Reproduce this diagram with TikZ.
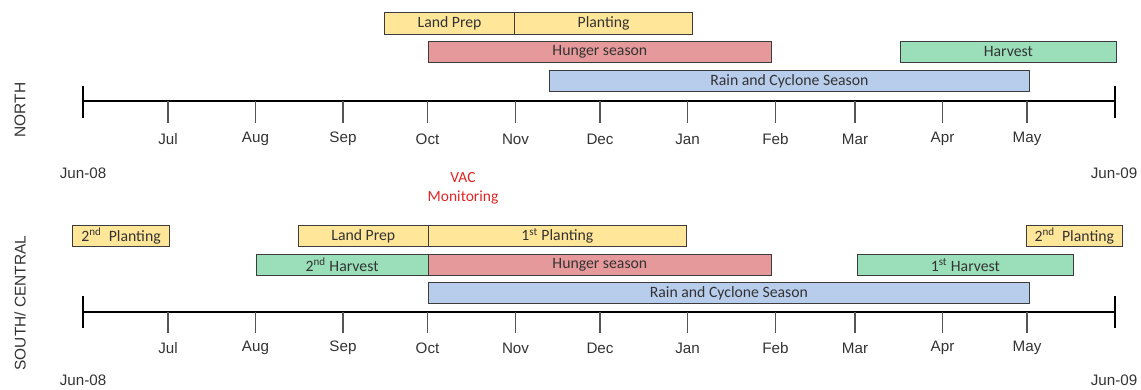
\documentclass[tikz,border=0pt]{standalone}
\usepackage{fontspec}
\setmainfont{Carlito}
\newfontfamily\arialfont{Liberation Sans}
\usepackage{tikz}

\definecolor{txtgray}{HTML}{333333}
\definecolor{edgegray}{HTML}{3C3C3C}
\definecolor{tickgray}{HTML}{555555}
\definecolor{prepyellow}{HTML}{FFE699}
\definecolor{hungerred}{HTML}{E6999A}
\definecolor{harvestgreen}{HTML}{9ADFB9}
\definecolor{rainblue}{HTML}{B8CCEC}
\definecolor{vacred}{HTML}{E02424}

\tikzset{
	bar/.style={shape=rectangle,draw=edgegray,line width=0.8pt,anchor=west,inner sep=0pt,
		minimum height=0.54cm,text=txtgray,font=\fontsize{11.2}{13}\selectfont},
	axis/.style={line width=2.1pt,black},
	endtick/.style={line width=1pt,black},
	monthtick/.style={line width=1pt,tickgray},
	month/.style={text=txtgray,font=\arialfont\fontsize{10.8}{12}\selectfont},
	region/.style={text=txtgray,rotate=90,font=\arialfont\fontsize{11}{13}\selectfont}
}

\begin{document}
\begin{tikzpicture}[x=0.025cm,y=-0.025cm]
	\useasboundingbox (0,0) rectangle (1141,389);

	% north panel
	\node[region] (north) at (20,110) {NORTH};
	\coordinate (nstart) at (83,101);
	\coordinate (nend)   at (1115,101);
	\draw[axis] (nstart) -- (nend);
	\draw[endtick] (83,86) -- (83,118);
	\draw[endtick] (1115,86) -- (1115,118);
	\foreach \x/\m in {168/Jul,255.5/Aug,343/Sep,427.5/Oct,515.5/Nov,600/Dec,687.5/Jan,775.5/Feb,855/Mar,942.5/Apr,1027/May}{
		\draw[monthtick] (\x,101) -- (\x,123);
		\node[month] (n\m) at (\x,139) {\m};
	}
	\node[month] (njun08) at (83,173)   {Jun-08};
	\node[month] (njun09) at (1114,173) {Jun-09};

	\node[bar,fill=prepyellow,minimum width=3.25cm]     (nprep)    at (384,23.5)  {Land Prep};
	\node[bar,fill=prepyellow,minimum width=4.45cm]     (nplant)   at (514,23.5)  {Planting};
	\node[bar,fill=hungerred,minimum width=8.5875cm]    (nhunger)  at (427.5,52)  {Hunger season};
	\node[bar,fill=harvestgreen,minimum width=5.3875cm] (nharvest) at (900,52)    {Harvest};
	\node[bar,fill=rainblue,minimum width=12.0125cm]    (nrain)    at (548.5,81)  {Rain and Cyclone Season};

	% VAC monitoring
	\node[text=vacred,align=center,font=\fontsize{11}{13.5}\selectfont] (vac) at (463,188.5) {VAC\\Monitoring};

	% south / central panel
	\node[region] (south) at (20,303) {SOUTH/ CENTRAL};
	\coordinate (sstart) at (83,312);
	\coordinate (send)   at (1115,312);
	\draw[axis] (sstart) -- (send);
	\draw[endtick] (83,296) -- (83,328);
	\draw[endtick] (1115,296) -- (1115,328);
	\foreach \x/\m in {168/Jul,255.5/Aug,343/Sep,427.5/Oct,515.5/Nov,600/Dec,687.5/Jan,775.5/Feb,855/Mar,942.5/Apr,1027/May}{
		\draw[monthtick] (\x,312) -- (\x,333);
		\node[month] (s\m) at (\x,348) {\m};
	}
	\node[month] (sjun08) at (83,380.5)   {Jun-08};
	\node[month] (sjun09) at (1114,380.5) {Jun-09};

	\node[bar,fill=prepyellow,minimum width=2.425cm]    (splanta)  at (72,236)    {2\textsuperscript{nd}\ \ Planting};
	\node[bar,fill=prepyellow,minimum width=3.2375cm]   (sprep)    at (298,236)   {Land Prep};
	\node[bar,fill=prepyellow,minimum width=6.4625cm]   (splant)   at (427.5,236) {1\textsuperscript{st} Planting};
	\node[bar,fill=prepyellow,minimum width=2.4125cm]   (splantb)  at (1025.5,236){2\textsuperscript{nd}\ \ Planting};
	\node[bar,fill=harvestgreen,minimum width=4.3cm]    (sharvestb) at (255.5,265) {2\textsuperscript{nd} Harvest};
	\node[bar,fill=hungerred,minimum width=8.5875cm]    (shunger)  at (427.5,265) {Hunger season};
	\node[bar,fill=harvestgreen,minimum width=5.3875cm] (sharvesta) at (857,265)  {1\textsuperscript{st} Harvest};
	\node[bar,fill=rainblue,minimum width=15.0375cm]    (srain)    at (427.5,293) {Rain and Cyclone Season};

\end{tikzpicture}
\end{document}
